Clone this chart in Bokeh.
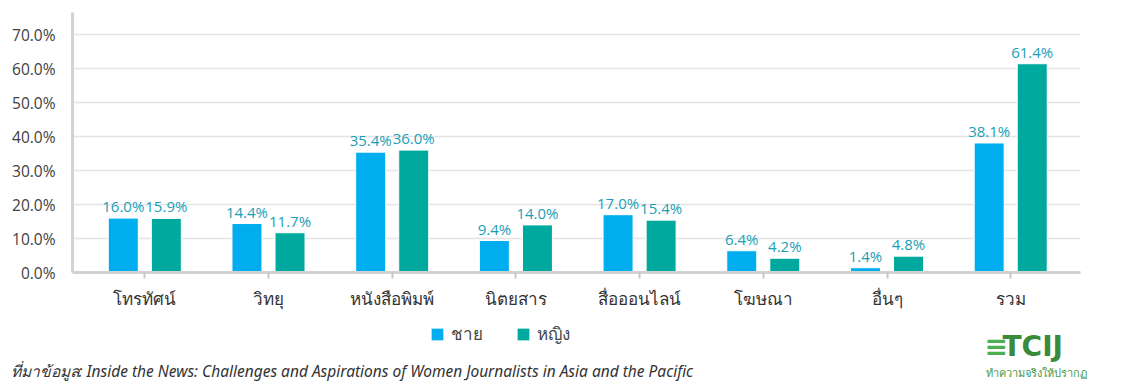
from bokeh.plotting import figure
from bokeh.models import (ColumnDataSource, Range1d, PrintfTickFormatter,
                          FixedTicker, Label, Legend, LegendItem)
from bokeh.transform import dodge
from bokeh.core.properties import value
from bokeh.embed import file_html
from bokeh.resources import INLINE

categories = ["โทรทัศน์", "วิทยุ", "หนังสือพิมพ์", "นิตยสาร", "สื่อออนไลน์", "โฆษณา", "อื่นๆ", "รวม"]
male = [16.0, 14.4, 35.4, 9.4, 17.0, 6.4, 1.4, 38.1]
female = [15.9, 11.7, 36.0, 14.0, 15.4, 4.2, 4.8, 61.4]
series_names = ["ชาย", "หญิง"]
y_ticks = [0, 10, 20, 30, 40, 50, 60, 70]
source_text = "ที่มาข้อมูล: Inside the News: Challenges and Aspirations of Women Journalists in Asia and the Pacific"
logo_text = "TCIJ"
logo_tagline = "ทำความจริงให้ปรากฏ"

BLUE = "#00AEEF"
TEAL = "#00A99D"
LABEL_C = "#1AA0B6"
FONT = "Open Sans"
THAI = "Noto Sans"

W, H = 1131, 389
idx = list(range(len(categories)))
src = ColumnDataSource(dict(
    idx=idx,
    male=male,
    female=female,
    male_lbl=[f"{v:.1f}%" for v in male],
    female_lbl=[f"{v:.1f}%" for v in female],
))

# layout geometry (pixels) of the reference
cat_px = 123.7          # pixels per category
first_px = 144.3        # centre of first category
zero_px = 272.0         # y pixel of 0 %
px_per_pct = 3.4
x_left_axis = (72 - first_px) / cat_px
x_right_axis = (1080 - first_px) / cat_px
y_top_axis = (zero_px - 12) / px_per_pct

p = figure(
    width=W, height=H,
    x_range=Range1d(-first_px / cat_px, (W - first_px) / cat_px),
    y_range=Range1d(-(H - zero_px) / px_per_pct, zero_px / px_per_pct),
    output_backend="svg", toolbar_location=None,
    min_border=0, background_fill_color="white", border_fill_color="white",
)
p.outline_line_color = None
p.xgrid.visible = False
p.ygrid.visible = False

# horizontal gridlines limited to the axis extent
p.segment(x0=[x_left_axis] * len(y_ticks), x1=[x_right_axis] * len(y_ticks),
          y0=y_ticks, y1=y_ticks, line_color="#e4e4e4", line_width=1.5)

off = 0.174
bw = 0.2425
r_m = p.vbar(x=dodge("idx", -off), top="male", width=bw, source=src,
             fill_color=BLUE, line_color="white", line_width=1)
r_f = p.vbar(x=dodge("idx", off), top="female", width=bw, source=src,
             fill_color=TEAL, line_color="white", line_width=1)

p.text(x=dodge("idx", -off), y="male", text="male_lbl", source=src,
       text_align="center", text_baseline="bottom", y_offset=-2,
       text_font=value(FONT), text_font_size="15px", text_color=LABEL_C)
p.text(x=dodge("idx", off), y="female", text="female_lbl", source=src,
       text_align="center", text_baseline="bottom", y_offset=-2,
       text_font=value(FONT), text_font_size="15px", text_color=LABEL_C)

# y axis
ya = p.yaxis[0]
ya.fixed_location = x_left_axis
ya.bounds = (0, y_top_axis)
ya.ticker = FixedTicker(ticks=y_ticks)
ya.formatter = PrintfTickFormatter(format="%.1f%%")
ya.axis_line_color = "#d2d2d2"
ya.axis_line_width = 3
ya.major_tick_line_color = None
ya.minor_tick_line_color = None
ya.major_label_text_font = FONT
ya.major_label_text_font_size = "15.5px"
ya.major_label_text_color = "#404040"
ya.major_label_standoff = 11

# x axis
xa = p.xaxis[0]
xa.fixed_location = 0
xa.bounds = (x_left_axis, x_right_axis)
xa.ticker = FixedTicker(ticks=idx)
xa.major_label_overrides = {i: c for i, c in zip(idx, categories)}
xa.axis_line_color = "#d2d2d2"
xa.axis_line_width = 3
xa.major_tick_line_color = "#c8c8c8"
xa.major_tick_line_width = 2
xa.major_tick_out = 6
xa.major_tick_in = 0
xa.minor_tick_line_color = None
xa.major_label_text_font = THAI
xa.major_label_text_font_size = "17px"
xa.major_label_text_color = "#333333"
xa.major_label_standoff = 8

legend = Legend(
    items=[LegendItem(label=series_names[0], renderers=[r_m]),
           LegendItem(label=series_names[1], renderers=[r_f])],
    orientation="horizontal", location=(429, 42),
    glyph_width=16, glyph_height=16, label_standoff=6, spacing=32,
    padding=0, margin=0, border_line_color=None, background_fill_alpha=0,
    label_text_font=THAI, label_text_font_size="17px", label_text_color="#444444",
)
p.add_layout(legend, "center")

p.add_layout(Label(x=10, y=H - 370, x_units="screen", y_units="screen", text=source_text,
                   text_font=THAI, text_font_size="15.5px", text_font_style="italic",
                   text_color="#333333", text_baseline="middle"))
p.add_layout(Label(x=984, y=H - 346, x_units="screen", y_units="screen", text="≡",
                   text_font="DejaVu Sans", text_font_size="28px", text_font_style="bold",
                   text_color="#4caf50", text_baseline="middle"))
p.add_layout(Label(x=1002, y=H - 346, x_units="screen", y_units="screen", text=logo_text,
                   text_font="DejaVu Sans", text_font_size="28px", text_font_style="bold",
                   text_color="#3a8a3c", text_baseline="middle"))
p.add_layout(Label(x=985, y=H - 372, x_units="screen", y_units="screen", text=logo_tagline,
                   text_font=THAI, text_font_size="11px",
                   text_color="#4a9a4a", text_baseline="middle"))

open("out.html", "w").write(file_html(p, INLINE))
